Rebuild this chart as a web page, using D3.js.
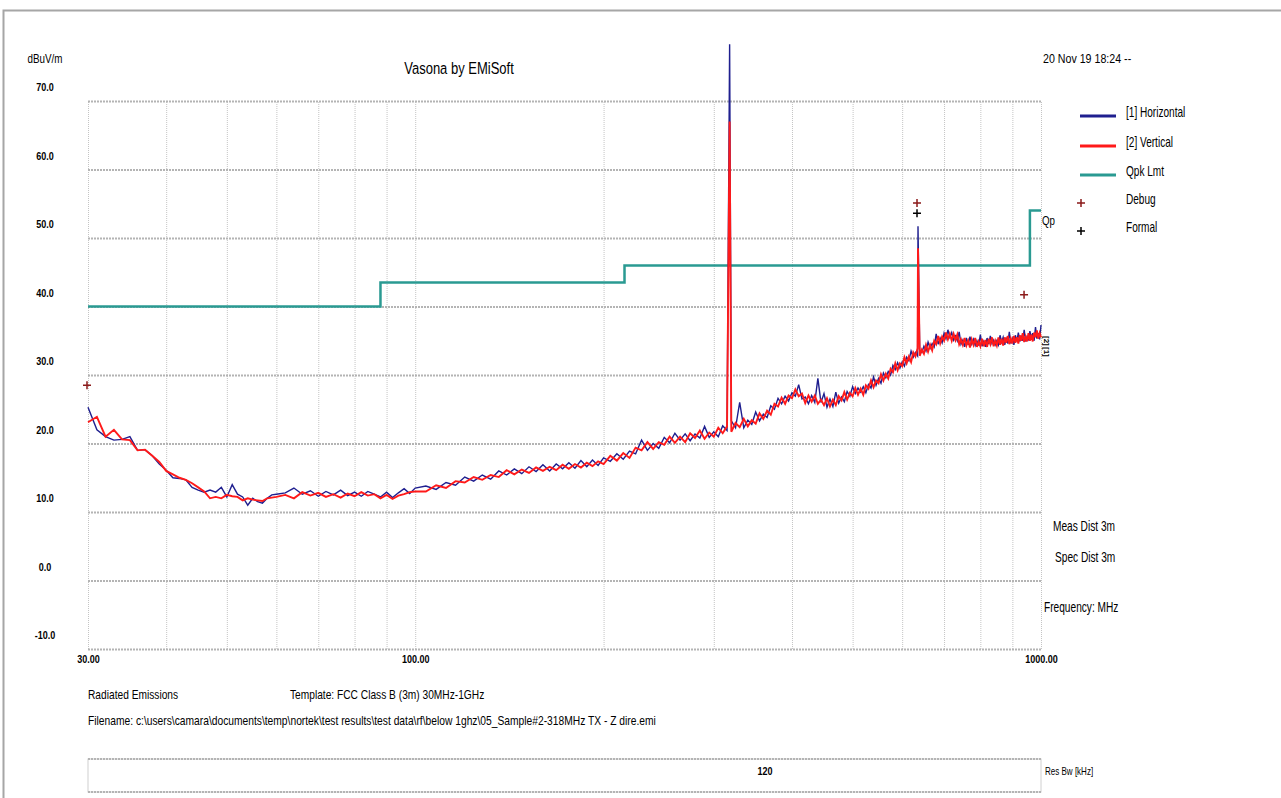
<!DOCTYPE html>
<html>
<head>
<meta charset="utf-8">
<script src="https://cdn.jsdelivr.net/npm/d3@7"></script>
<style>
  body { margin: 0; background: #fff; }
  #chart svg { display: block; }
</style>
</head>
<body>
<div id="chart"></div>
<script>
// sweep frequencies (MHz)
const freqMHz = [
  30,31,32,33,34,35,36,37,38,39,40,41,42,43,44,45,46,47,48,49,50,51,52,53,54,55,56,57,58,59,60,
  62,64,66,68,70,72,74,76,78,80,82,84,86,88,90,92,94,96,98,100,
  104,108,112,116,120,124,128,132,136,140,144,148,152,156,160,164,168,172,176,180,184,188,192,196,200,
  205,210,215,220,225,230,235,240,245,250,255,260,265,270,275,280,285,290,295,300,
  305,310,315,318,
  320,325,330,335,340,345,350,355,360,365,370,375,380,385,390,395,400,
  405,410,415,420,425,430,435,440,445,450,455,460,465,470,475,480,485,490,495,500,
  505,510,515,520,525,530,535,540,545,550,555,560,565,570,575,580,585,590,595,600,
  605,610,615,620,625,630,635,636,
  640,645,650,655,660,665,670,675,680,685,690,695,700,
  705,710,715,720,725,730,735,740,745,750,755,760,765,770,775,780,785,790,795,800,
  805,810,815,820,825,830,835,840,845,850,855,860,865,870,875,880,885,890,895,900,
  905,910,915,920,925,930,935,940,945,950,955,960,965,970,975,980,985,990,995,1000
];

// [1] Horizontal, dBuV/m
const horizontalDb = [
  25.3,22.0,21.0,20.5,20.6,21.0,19.0,19.1,18.2,17.0,16.1,15.0,14.9,14.7,13.6,13.2,12.9,13.2,12.9,13.6,12.2,14.0,12.6,12.2,11.0,12.0,11.5,11.3,12.0,12.5,12.6,
  12.8,13.5,12.6,13.1,12.3,13.0,12.5,13.2,12.4,12.9,12.3,13.0,12.6,12.2,12.9,12.1,12.8,13.4,12.7,13.5,
  13.8,13.3,14.3,13.9,15.1,14.5,15.4,14.8,16.0,15.4,16.3,15.6,16.6,15.9,16.9,16.0,17.0,16.3,17.2,16.4,17.5,16.6,17.6,16.8,17.9,
  17.4,18.5,17.7,18.9,18.5,20.5,19.0,20.0,19.3,20.9,20.1,21.5,20.5,21.4,20.4,21.4,20.8,22.5,20.9,21.7,
  21.0,22.6,21.9,78.3,
  23.3,22.3,26.0,22.3,23.4,22.8,24.6,23.3,24.3,23.8,25.5,25.0,26.6,25.8,26.9,26.2,27.4,
  26.9,28.6,26.5,26.8,25.8,27.0,26.0,29.5,26.0,27.3,25.3,26.5,25.4,27.5,25.9,26.8,26.1,27.6,26.9,28.3,
  27.3,28.1,27.5,28.3,27.4,28.6,28.1,29.7,28.5,29.5,28.8,30.3,29.6,30.5,30.0,31.4,30.8,31.8,31.0,31.9,
  31.3,32.6,32.1,33.5,32.6,33.3,32.8,51.7,
  33.6,33.3,34.2,33.5,34.8,33.9,34.6,34.1,36.0,34.5,35.4,34.7,36.1,
  35.3,36.6,35.5,36.2,35.1,35.7,35.0,36.3,34.5,35.1,34.1,35.4,34.4,35.6,34.5,35.2,34.3,35.0,34.3,35.9,
  34.2,34.9,34.1,35.4,34.5,35.7,34.6,35.1,34.4,35.0,34.4,35.8,34.8,35.5,34.4,35.3,34.6,36.3,34.6,35.3,
  34.4,35.8,34.9,36.2,34.9,35.6,35.0,36.6,34.9,35.6,35.2,36.4,35.4,36.1,35.0,37.0,35.3,36.1,35.2,37.3
];

// [2] Vertical, dBuV/m
const verticalDb = [
  23.1,23.9,21.0,22.0,20.6,20.5,19.0,19.1,18.2,17.3,16.0,15.5,15.0,14.7,14.2,13.6,13.0,12.0,12.2,12.0,12.5,12.3,12.2,11.7,12.0,11.8,11.7,11.6,12.0,12.1,12.2,
  12.5,12.0,12.9,12.4,12.8,12.2,12.6,12.1,12.7,12.3,12.9,12.4,12.6,12.0,12.5,11.9,12.4,12.6,12.9,13.0,
  13.0,13.9,13.5,14.5,14.3,15.1,14.7,15.4,15.1,16.1,15.5,16.2,15.7,16.5,16.0,16.6,16.1,16.9,16.3,17.0,16.5,17.2,16.7,17.4,17.0,
  18.2,17.5,18.6,17.9,19.4,19.0,20.2,19.2,20.2,19.8,21.0,20.1,21.0,20.2,21.5,20.8,21.9,20.7,21.6,21.0,
  22.3,21.5,22.5,67.0,
  21.7,23.0,22.4,23.6,22.5,23.4,22.9,24.4,23.6,24.8,24.2,25.8,25.4,26.7,25.8,27.0,26.6,
  27.9,26.9,27.3,25.9,27.0,26.1,27.0,25.8,26.4,25.6,26.6,25.4,26.4,25.6,26.9,26.3,27.5,26.4,27.4,26.9,
  28.1,27.1,28.0,27.1,28.5,28.0,29.2,28.2,29.2,28.8,30.1,29.2,30.2,29.5,30.9,30.4,31.7,30.7,31.7,31.3,
  32.6,31.7,32.7,31.9,33.3,32.7,33.9,48.5,
  32.8,33.7,33.1,34.4,33.4,34.4,33.6,35.0,34.5,35.7,34.6,35.6,35.0,
  36.2,35.2,36.0,35.0,36.0,35.1,35.9,34.5,35.2,34.4,35.4,34.3,35.0,34.0,35.2,34.4,35.4,34.1,34.9,34.2,
  35.3,34.2,35.1,34.1,35.3,34.5,35.5,34.2,35.0,34.3,35.5,34.4,35.3,34.3,35.5,34.7,35.7,34.5,35.3,34.6,
  35.7,34.7,35.5,34.6,35.8,35.0,36.1,34.8,35.6,34.9,36.1,35.0,35.9,34.9,36.2,35.5,36.5,35.3,36.1,35.5
];

// Qpk limit (FCC Class B, 3m)
const limitFreq = [30, 88, 88, 216, 216, 960, 960, 1000];
const limitDb = [40, 40, 43.5, 43.5, 46, 46, 54, 54];

// markers
const debugFreq = [30, 636, 943];
const debugDb = [28.5, 55.1, 41.7];
const formalFreq = [636];
const formalDb = [53.6];

const yTicks = [-10, 0, 10, 20, 30, 40, 50, 60, 70];
const xGridTicks = [30, 40, 50, 60, 70, 80, 90, 100, 200, 300, 400, 500, 600, 700, 800, 900, 1000];
const xLabelTicks = [30, 100, 1000];

const legendNames = ["[1] Horizontal", "[2] Vertical", "Qpk Lmt", "Debug", "Formal"];
const legendColors = ["#1f1f8f", "#ff1a1a", "#2a9a92", "#8b1a1a", "#000000"];

document.addEventListener('DOMContentLoaded', function() {
    const width = 1281;
    const height = 798;
    const font = "'Liberation Sans', Arial, sans-serif";
    const narrow = 0.82;   // squeeze to look like Arial Narrow

    const svg = d3.select("#chart")
        .append("svg")
        .attr("width", width)
        .attr("height", height)
        .style("font-family", font);

    svg.append("rect").attr("width", width).attr("height", height).attr("fill", "#fff");

    function label(px, py, str, size, opts) {
        opts = opts || {};
        return svg.append("text")
            .attr("transform", `translate(${px},${py}) scale(${opts.sx || narrow},1)`)
            .attr("text-anchor", opts.anchor || "start")
            .style("font-size", size + "px")
            .style("font-weight", opts.weight || "normal")
            .attr("fill", "#000")
            .text(str);
    }

    // window frame
    svg.append("path")
        .attr("d", "M3.5,798V10.5H1281")
        .attr("fill", "none")
        .attr("stroke", "#a6a6a6")
        .attr("stroke-width", 2);

    const x = d3.scaleLog().domain([30, 1000]).range([88, 1041]);
    const y = d3.scaleLinear().domain([-10, 70]).range([649, 101]);

    // grid
    svg.append("g")
        .attr("transform", "translate(0,649)")
        .call(d3.axisBottom(x).tickValues(xGridTicks).tickSize(-548).tickFormat(""))
        .call(g => g.select(".domain").remove())
        .call(g => g.selectAll("line")
            .attr("stroke", "#c4c4c4")
            .attr("stroke-dasharray", "1,1"));

    svg.append("g")
        .attr("transform", "translate(88,0)")
        .call(d3.axisLeft(y).tickValues(yTicks).tickSize(-953).tickFormat(""))
        .call(g => g.select(".domain").remove())
        .call(g => g.selectAll("line")
            .attr("stroke", "#b4b4b4")
            .attr("stroke-width", 2)
            .attr("stroke-dasharray", "2,1"));

    // y labels, sitting above their grid lines
    svg.append("g")
        .attr("transform", "translate(88,0)")
        .call(d3.axisLeft(y).tickValues(yTicks).tickSize(0).tickFormat(d => d.toFixed(1)))
        .call(g => g.select(".domain").remove())
        .call(g => g.selectAll("text")
            .attr("x", 0)
            .attr("transform", `translate(-43,-14) scale(${narrow},1)`)
            .attr("text-anchor", "middle")
            .style("font-family", font)
            .style("font-size", "11px")
            .style("font-weight", "bold")
            .attr("fill", "#000"));

    // x labels
    svg.append("g")
        .attr("transform", "translate(0,649)")
        .call(d3.axisBottom(x).tickValues(xLabelTicks).tickSize(0).tickFormat(d => d.toFixed(2)))
        .call(g => g.select(".domain").remove())
        .call(g => g.selectAll("text")
            .attr("y", 0)
            .attr("transform", `translate(0,6) scale(${narrow},1)`)
            .style("font-family", font)
            .style("font-size", "11px")
            .style("font-weight", "bold")
            .attr("fill", "#000"));

    // limit line
    const limitPts = limitFreq.map((f, i) => [f, limitDb[i]]);
    const line = d3.line().x(d => x(d[0])).y(d => y(d[1]));

    svg.append("path")
        .datum(limitPts)
        .attr("d", line)
        .attr("fill", "none")
        .attr("stroke", legendColors[2])
        .attr("stroke-width", 2.5);

    // traces
    const hPts = freqMHz.map((f, i) => [f, horizontalDb[i]]);
    const vPts = freqMHz.map((f, i) => [f, verticalDb[i]]);

    svg.append("path")
        .datum(hPts)
        .attr("d", line)
        .attr("fill", "none")
        .attr("stroke", legendColors[0])
        .attr("stroke-width", 1.4);

    svg.append("path")
        .datum(vPts)
        .attr("d", line)
        .attr("fill", "none")
        .attr("stroke", legendColors[1])
        .attr("stroke-width", 1.9);

    // + markers
    const plus = "M-4,0H4M0,-4V4";
    const markers = debugFreq.map((f, i) => ({ f: f, db: debugDb[i], c: legendColors[3] }))
        .concat(formalFreq.map((f, i) => ({ f: f, db: formalDb[i], c: legendColors[4] })));

    svg.selectAll(".marker")
        .data(markers)
        .enter().append("path")
        .attr("class", "marker")
        .attr("d", plus)
        .attr("transform", d => `translate(${x(d.f) - 1},${y(d.db)})`)
        .attr("stroke", d => d.c)
        .attr("stroke-width", 1.5);

    // trace tags at the right end
    svg.append("text")
        .attr("transform", "translate(1044,336) rotate(90)")
        .style("font-size", "8px")
        .style("font-weight", "bold")
        .text("[2]");
    svg.append("text")
        .attr("transform", "translate(1044,347) rotate(90)")
        .style("font-size", "8px")
        .style("font-weight", "bold")
        .text("[1]");

    label(1042, 225, "Qp", 13, { sx: 0.75 });

    // titles
    label(45, 63, "dBuV/m", 12, { anchor: "middle" });
    label(459, 74, "Vasona by EMiSoft", 17, { anchor: "middle", sx: 0.765 });
    label(1043, 63, "20 Nov 19 18:24 --", 13);

    // legend
    const legendY = [116, 146, 175, 203, 231];
    legendNames.forEach((name, i) => {
        if (i < 3) {
            svg.append("line")
                .attr("x1", 1080).attr("x2", 1116)
                .attr("y1", legendY[i]).attr("y2", legendY[i])
                .attr("stroke", legendColors[i])
                .attr("stroke-width", 3);
        } else {
            svg.append("path")
                .attr("d", plus)
                .attr("transform", `translate(1081,${legendY[i]})`)
                .attr("stroke", legendColors[i])
                .attr("stroke-width", 1.5);
        }
        label(1126, legendY[i] + 1, name, 14, { sx: 0.72 });
    });

    // right-side notes
    label(1053, 531, "Meas Dist 3m", 14, { sx: 0.725 });
    label(1055, 562, "Spec Dist 3m", 14, { sx: 0.725 });
    label(1044, 612, "Frequency: MHz", 14, { sx: 0.725 });

    // footer
    label(88, 699, "Radiated Emissions", 13, { sx: 0.785 });
    label(290, 699, "Template: FCC Class B (3m) 30MHz-1GHz", 13, { sx: 0.785 });
    label(88, 725, "Filename: c:\\users\\camara\\documents\\temp\\nortek\\test results\\test data\\rf\\below 1ghz\\05_Sample#2-318MHz TX - Z dire.emi", 13, { sx: 0.79 });

    // res bw strip
    svg.append("rect")
        .attr("x", 88).attr("y", 759)
        .attr("width", 953).attr("height", 33)
        .attr("fill", "none")
        .attr("stroke", "#d0d0d0");
    svg.selectAll(".rbw-edge")
        .data([759, 792])
        .enter().append("line")
        .attr("class", "rbw-edge")
        .attr("x1", 88).attr("x2", 1041)
        .attr("y1", d => d).attr("y2", d => d)
        .attr("stroke", "#b4b4b4")
        .attr("stroke-width", 2)
        .attr("stroke-dasharray", "2,1");

    label(765, 775, "120", 11, { anchor: "middle", weight: "bold" });
    label(1045, 775, "Res Bw [kHz]", 11, { sx: 0.73 });
});
</script>
</body>
</html>
